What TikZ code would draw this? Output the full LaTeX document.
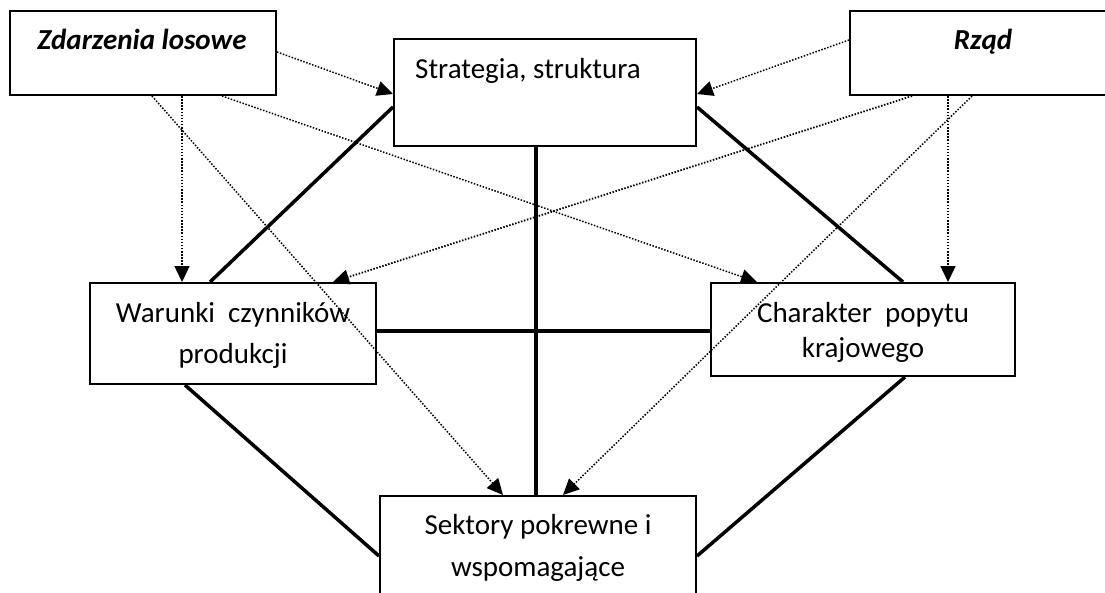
\documentclass[tikz,border=0pt]{standalone}
\usepackage{fontspec}
\setmainfont{Carlito}
\usetikzlibrary{arrows.meta}

\tikzset{
  box/.style={draw, line width=2pt, rectangle, inner sep=0pt},
  solidlink/.style={line width=3.5pt},
  dotlink/.style={line width=1.5pt, dash pattern=on 1.5pt off 1.6pt,
                  -{Triangle[length=16pt,width=15pt]}},
  txt/.style={inner sep=0pt, font=\fontsize{29}{35}\selectfont},
  bigtxt/.style={txt, font=\fontsize{29}{35}\selectfont\bfseries\itshape},
}

\begin{document}
\begin{tikzpicture}[x=1pt, y=-1pt]
  \useasboundingbox (0,0) rectangle (1105,592);
  \fill[white] (0,0) rectangle (1105,592);
  \clip (0,0) rectangle (1105,592);

  % boxes
  \node[box, minimum width=266pt, minimum height=84pt]  (zl) at (143,53)    {};
  \node[box, minimum width=302pt, minimum height=107pt] (st) at (545,92.5)  {};
  \node[box, minimum width=266pt, minimum height=84pt]  (rz) at (983,53)    {};
  \node[box, minimum width=286pt, minimum height=101pt] (wa) at (233,333.5) {};
  \node[box, minimum width=304pt, minimum height=93pt]  (ch) at (863,329.5) {};
  \node[box, minimum width=316pt, minimum height=124pt] (se) at (538,558)   {};

  % labels (multi-line labels are placed by the baseline of their last line)
  \node[bigtxt, anchor=base] (zlt) at (142,49) {Zdarzenia losowe};
  \node[txt, anchor=base west] (stt) at (415,78) {Strategia, struktura};
  \node[bigtxt, anchor=base] (rzt) at (983,49) {Rząd};
  \node[txt, anchor=base, align=center, font=\fontsize{29}{41}\selectfont]
    (wat) at (233,363) {Warunki\ \ czynników\\produkcji};
  \node[txt, anchor=base, align=center, font=\fontsize{29}{35}\selectfont]
    (cht) at (863,357) {Charakter\ \ popytu\\krajowego};
  \node[txt, anchor=base, align=center, font=\fontsize{29}{42}\selectfont]
    (set) at (538,576) {Sektory pokrewne i\\wspomagające};

  % solid links between the four determinants
  \draw[solidlink] ([yshift=-14.5pt]st.west) -- ([xshift=-23pt]wa.north);
  \draw[solidlink] ([yshift=-14.5pt]st.east) -- ([xshift=40pt]ch.north);
  \draw[solidlink] ([xshift=-9pt]st.south) -- ([xshift=-2pt]se.north);
  \coordinate (h1) at ([yshift=2.5pt]wa.east);
  \draw[solidlink] (h1) -- (h1 -| ch.west);
  \draw[solidlink] ([xshift=-48pt]wa.south) -- ([yshift=2pt]se.west);
  \draw[solidlink] ([xshift=42pt]ch.south) -- ([yshift=2pt]se.east);

  % dotted influences of chance events
  \draw[dotlink] ([yshift=1pt]zl.east) -- ([yshift=-1.5pt]st.west);
  \draw[dotlink] ([xshift=39pt]zl.south) -- ([xshift=-51pt]wa.north);
  \draw[dotlink] ([xshift=9pt]zl.south) -- ([xshift=-35pt]se.north);
  \draw[dotlink] ([xshift=79pt]zl.south) -- ([xshift=-106pt]ch.north);

  % dotted influences of the government
  \draw[dotlink] ([yshift=13pt]rz.west) -- ([yshift=-1.5pt]st.east);
  \draw[dotlink, line width=1.8pt] ([xshift=-71pt]rz.south) -- ([xshift=100pt]wa.north);
  \draw[dotlink] ([xshift=-35pt]rz.south) -- ([xshift=85pt]ch.north);
  \draw[dotlink] ([xshift=-11pt]rz.south) -- ([xshift=25pt]se.north);
\end{tikzpicture}
\end{document}
